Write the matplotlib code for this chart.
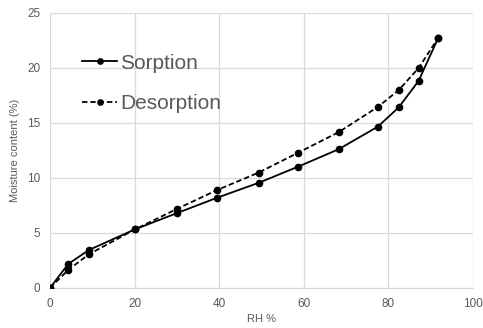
import matplotlib
matplotlib.use("Agg")
import matplotlib.pyplot as plt

plt.rcParams["font.family"] = ["Liberation Sans", "DejaVu Sans"]

rh_sorption = [0, 4.3, 9.2, 20.1, 30.0, 39.5, 49.3, 58.7, 68.2, 77.5, 82.4, 87.1, 91.8]
mc_sorption = [0, 2.18, 3.45, 5.33, 6.8, 8.2, 9.55, 11.03, 12.6, 14.66, 16.4, 18.8, 22.75]
rh_desorption = [0, 4.3, 9.2, 20.1, 30.0, 39.5, 49.3, 58.7, 68.2, 77.5, 82.4, 87.1, 91.8]
mc_desorption = [0, 1.64, 3.06, 5.33, 7.18, 8.9, 10.48, 12.3, 14.15, 16.45, 17.97, 19.97, 22.75]

grey = "#595959"

fig = plt.figure(figsize=(4.83, 3.28), dpi=100)
ax = fig.add_axes([0.1035, 0.122, 0.876, 0.839])

ax.plot(rh_sorption, mc_sorption, color="black", linestyle="-", linewidth=1.3,
        marker="o", markersize=4.5, label="Sorption", zorder=3)
ax.plot(rh_desorption, mc_desorption, color="black", linestyle=(0, (3, 1.6)), linewidth=1.3,
        marker="o", markersize=4.5, label="Desorption", zorder=3)

ax.set_xlim(0, 100)
ax.set_ylim(0, 25)
ax.set_xticks(range(0, 101, 20))
ax.set_yticks(range(0, 26, 5))
ax.grid(True, color="#d9d9d9", linewidth=0.9)
ax.set_axisbelow(True)
for side in ["top", "right", "left"]:
    ax.spines[side].set_visible(False)
ax.spines["bottom"].set_color("#d9d9d9")
ax.tick_params(length=0, labelsize=8.5, labelcolor=grey, pad=7)

ax.set_xlabel("RH %", fontsize=8, color=grey, labelpad=3)
ax.set_ylabel("Moisture content (%)", fontsize=8, color=grey, labelpad=4.7)

ax.legend(loc="upper left", bbox_to_anchor=(0.031, 0.92), frameon=False,
          fontsize=15, handlelength=1.7, handletextpad=0.12, labelspacing=1.05,
          markerscale=0.85, labelcolor=grey)

fig.savefig("out.png", dpi=100)
